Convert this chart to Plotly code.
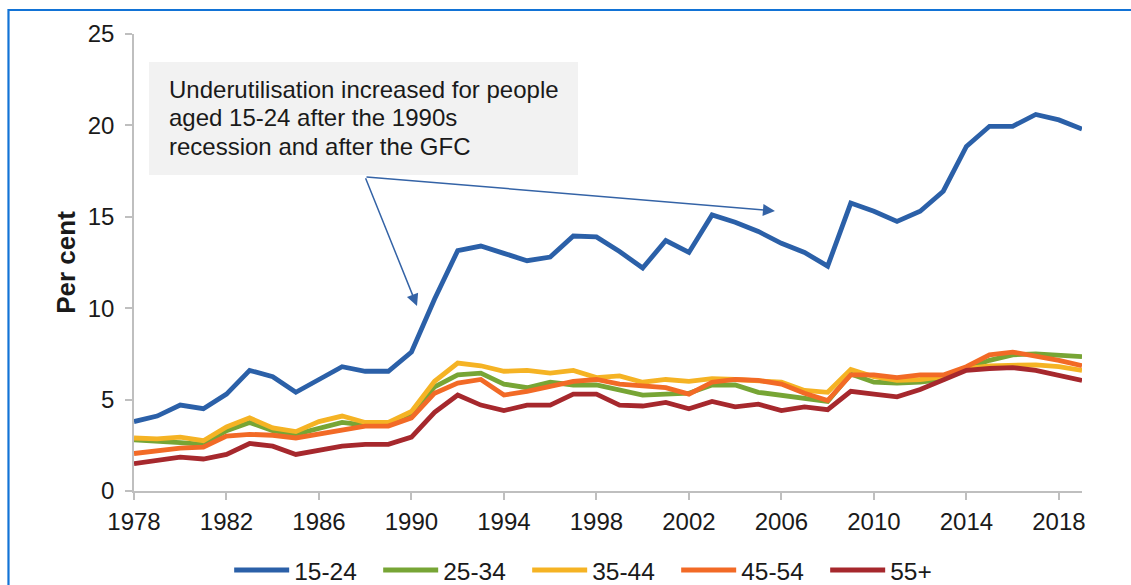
import plotly.graph_objects as go

# Labour underutilisation rate by age group, per cent
years = list(range(1978, 2020))

age_15_24 = [3.8, 4.1, 4.7, 4.5, 5.3, 6.6, 6.25, 5.4, 6.1, 6.8, 6.55, 6.55, 7.6,
             10.5, 13.15, 13.4, 13.0, 12.6, 12.8, 13.95, 13.9, 13.1, 12.2,
             13.7, 13.05, 15.1, 14.7, 14.2, 13.55, 13.05, 12.3, 15.75, 15.3,
             14.75, 15.3, 16.4, 18.85, 19.95, 19.95, 20.6, 20.3, 19.8]
age_25_34 = [2.8, 2.75, 2.65, 2.55, 3.3, 3.75, 3.3, 3.1, 3.45, 3.75, 3.6, 3.6, 4.15,
             5.7, 6.35, 6.45, 5.85, 5.65, 5.95, 5.8, 5.8, 5.5, 5.25,
             5.3, 5.35, 5.8, 5.8, 5.4, 5.25, 5.05, 4.9, 6.4, 5.95,
             5.9, 5.95, 6.1, 6.7, 7.15, 7.45, 7.5, 7.45, 7.35]
age_35_44 = [2.9, 2.85, 2.95, 2.75, 3.5, 4.0, 3.45, 3.25, 3.8, 4.1, 3.75, 3.75, 4.35,
             6.0, 7.0, 6.85, 6.55, 6.6, 6.45, 6.6, 6.2, 6.3, 5.95,
             6.1, 6.0, 6.15, 6.1, 6.0, 5.95, 5.5, 5.4, 6.65, 6.25,
             6.05, 6.1, 6.25, 6.7, 6.85, 6.9, 6.9, 6.8, 6.6]
age_45_54 = [2.05, 2.2, 2.35, 2.4, 3.0, 3.1, 3.05, 2.9, 3.1, 3.35, 3.55, 3.55, 4.0,
             5.35, 5.9, 6.1, 5.25, 5.45, 5.7, 6.0, 6.1, 5.85, 5.75,
             5.65, 5.3, 5.95, 6.1, 6.05, 5.85, 5.35, 4.95, 6.35, 6.35,
             6.2, 6.35, 6.35, 6.8, 7.45, 7.6, 7.4, 7.15, 6.85]
age_55_plus = [1.5, 1.65, 1.85, 1.75, 2.0, 2.6, 2.45, 2.0, 2.25, 2.45, 2.55, 2.55, 2.95,
               4.3, 5.25, 4.7, 4.4, 4.7, 4.7, 5.3, 5.3, 4.7, 4.65,
               4.85, 4.5, 4.9, 4.6, 4.75, 4.4, 4.6, 4.45, 5.45, 5.3,
               5.15, 5.55, 6.05, 6.6, 6.7, 6.75, 6.6, 6.35, 6.05]

series_names = ["15-24", "25-34", "35-44", "45-54", "55+"]
series_values = [age_15_24, age_25_34, age_35_44, age_45_54, age_55_plus]
series_colors = ["#2b60a8", "#77a535", "#f5b324", "#f26a26", "#a6282d"]

x_ticks = list(range(1978, 2019, 4))
y_ticks = [0, 5, 10, 15, 20, 25]

note_lines = ["Underutilisation increased for people",
              "aged 15-24 after the 1990s",
              "recession and after the GFC"]

FONT = "Liberation Sans, Arial, sans-serif"
AXIS_GREY = "#bfbfbf"
TEXT = "#1a1a1a"

fig = go.Figure()
for name, vals, col in zip(series_names, series_values, series_colors):
    fig.add_trace(go.Scatter(
        x=years, y=vals, name=name, mode="lines",
        line=dict(color=col, width=4.8),
        cliponaxis=False,
    ))

fig.update_layout(
    width=1131, height=585,
    margin=dict(l=134, r=49, t=34, b=94, autoexpand=False),
    paper_bgcolor="white", plot_bgcolor="white",
    font=dict(family=FONT, size=24, color=TEXT),
    showlegend=True,
    legend=dict(
        orientation="h", x=0.1004, xanchor="left", y=-0.173, yanchor="middle",
        entrywidth=79, entrywidthmode="pixels",
        font=dict(family=FONT, size=24.5, color=TEXT),
        bgcolor="rgba(0,0,0,0)", tracegroupgap=0, itemwidth=55,
    ),
    xaxis=dict(
        range=[1978, 2019], tickvals=x_ticks,
        showline=True, linecolor=AXIS_GREY, linewidth=1.5,
        ticks="outside", ticklen=7, tickcolor=AXIS_GREY, tickwidth=1.5,
        showgrid=False, zeroline=False, ticklabelstandoff=1,
        tickfont=dict(family=FONT, size=24, color=TEXT),
    ),
    yaxis=dict(
        range=[0, 25], tickvals=y_ticks,
        showline=True, linecolor=AXIS_GREY, linewidth=1.5,
        ticks="outside", ticklen=7, tickcolor=AXIS_GREY, tickwidth=1.5,
        showgrid=False, zeroline=False, ticklabelstandoff=6,
        tickfont=dict(family=FONT, size=24, color=TEXT),
        title=dict(text="<b>Per cent</b>", standoff=5,
                   font=dict(family=FONT, size=26, color=TEXT)),
    ),
)

# Callout box with its note
fig.add_shape(type="rect", xref="paper", yref="paper",
              x0=0.0158, x1=0.4684, y0=0.6915, y1=0.9387,
              fillcolor="#f2f2f2", line=dict(width=0), layer="below")
for line_text, line_y in zip(note_lines, [0.8796, 0.8173, 0.7549]):
    fig.add_annotation(xref="paper", yref="paper", x=0.035, y=line_y,
                       xanchor="left", yanchor="middle", align="left",
                       text=line_text, showarrow=False,
                       font=dict(family=FONT, size=24, color=TEXT))

# Arrows from the callout to the two rises
ARROW = "#3463a6"
for hx, hy in [(1990.24, 10.12), (2005.72, 15.32)]:
    fig.add_annotation(x=hx, y=hy, xref="x", yref="y",
                       ax=1987.99, ay=17.19, axref="x", ayref="y",
                       text="", showarrow=True, arrowhead=2,
                       arrowsize=1.6, arrowwidth=1.5, arrowcolor=ARROW,
                       standoff=0, startstandoff=0)

# Blue frame around the exhibit
fig.add_shape(type="rect", xref="paper", yref="paper",
              x0=-0.1324, x1=1.2, y0=-0.4, y1=1.0525,
              line=dict(color="#1273d6", width=2.2), fillcolor="rgba(0,0,0,0)")

fig.write_html("out.html")
